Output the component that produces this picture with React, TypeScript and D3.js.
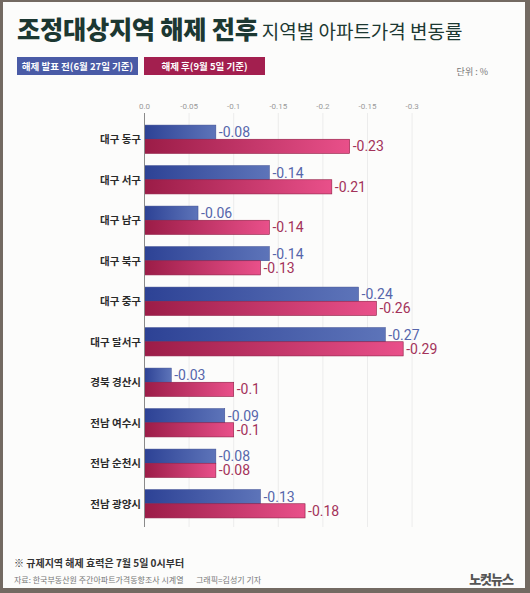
import React, { useEffect } from "react";
import * as d3 from "d3";

const categories = ["대구 동구", "대구 서구", "대구 남구", "대구 북구", "대구 중구", "대구 달서구", "경북 경산시", "전남 여수시", "전남 순천시", "전남 광양시"];
const beforeValues = [-0.08, -0.14, -0.06, -0.14, -0.24, -0.27, -0.03, -0.09, -0.08, -0.13];
const afterValues = [-0.23, -0.21, -0.14, -0.13, -0.26, -0.29, -0.1, -0.1, -0.08, -0.18];
const tickValues = [0, -0.05, -0.1, -0.15, -0.2, -0.25, -0.3];
const tickLabels = ["0.0", "-0.05", "-0.1", "-0.15", "-0.2", "-0.15", "-0.3"];
const seriesNames = ["해제 발표 전(6월 27일 기준)", "해제 후(9월 5일 기준)"];

const W = 530;
const H = 593;
const KR = "'Noto Sans CJK KR', 'Noto Sans', sans-serif";
const NUM = "Roboto, 'Liberation Sans', sans-serif";

export default function App() {
  useEffect(() => {
    document.body.style.margin = "0";
  }, []);

  const x = d3.scaleLinear().domain([0, -0.3]).range([144.5, 144.5 + 0.3 * 892]);
  const y = d3.scaleBand<string>().domain(categories).range([119, 524]).paddingInner(0.3).paddingOuter(0.15);
  const half = y.bandwidth() / 2;
  const gridTop = 113;
  const gridBottom = 527;

  return (
    <svg width={W} height={H} style={{ position: "absolute", left: 0, top: 0, display: "block" }}>
      <defs>
        <linearGradient id="gBlue" x1="0" y1="0" x2="1" y2="0">
          <stop offset="0" stopColor="#2d4295" />
          <stop offset="1" stopColor="#5d74b9" />
        </linearGradient>
        <linearGradient id="gRed" x1="0" y1="0" x2="1" y2="0">
          <stop offset="0" stopColor="#9b1c47" />
          <stop offset="1" stopColor="#e9508a" />
        </linearGradient>
      </defs>
      <rect x={0} y={0} width={W} height={H} fill="#736a62" />
      <rect x={3} y={2} width={522} height={586} fill="#fcfcfb" />

      <text x={17} y={39} fontFamily={KR} fontWeight={900} fontSize={25.3} fill="#1c3832" letterSpacing={-0.3}>
        조정대상지역 해제 전후
        <tspan dx={4} fontWeight={400} fontSize={19} letterSpacing={0}>지역별 아파트가격 변동률</tspan>
      </text>

      <rect x={17} y={57} width={121} height={18} fill="#4a5ba6" />
      <text x={77.5} y={69.5} textAnchor="middle" fontFamily={KR} fontWeight={700} fontSize={9.5} fill="#fff">{seriesNames[0]}</text>
      <rect x={144} y={57} width={121} height={18} fill="#a31f4f" />
      <text x={204.5} y={69.5} textAnchor="middle" fontFamily={KR} fontWeight={700} fontSize={9.5} fill="#fff">{seriesNames[1]}</text>

      <text x={488} y={75} textAnchor="end" fontFamily={KR} fontSize={9} fill="#777">단위 : %</text>

      {tickValues.map((t, i) => (
        <g key={i}>
          {i > 0 && <line x1={x(t)} x2={x(t)} y1={gridTop} y2={gridBottom} stroke="#ececec" strokeWidth={1} />}
          <text x={x(t)} y={109} textAnchor="middle" fontFamily={NUM} fontSize={8} fill="#9a9a9a">{tickLabels[i]}</text>
        </g>
      ))}

      {categories.map((c, i) => {
        const y0 = y(c) as number;
        const b = beforeValues[i];
        const a = afterValues[i];
        return (
          <g key={c}>
            <rect x={x(0)} y={y0} width={x(b) - x(0)} height={half} fill="url(#gBlue)" stroke="#3a4a90" strokeWidth={0.5} />
            <rect x={x(0)} y={y0 + half} width={x(a) - x(0)} height={half} fill="url(#gRed)" stroke="#8e1a42" strokeWidth={0.6} />
            <text x={x(b) + 3} y={y0 + half / 2} dy="0.36em" fontFamily={NUM} fontSize={14} fill="#5666ab">{String(b)}</text>
            <text x={x(a) + 3} y={y0 + half * 1.5} dy="0.36em" fontFamily={NUM} fontSize={14} fill="#a3325a">{String(a)}</text>
            <text x={141} y={y0 + half} dy="0.36em" textAnchor="end" fontFamily={KR} fontWeight={700} fontSize={10.5} fill="#2a2a2a">{c}</text>
          </g>
        );
      })}

      <line x1={x(0)} x2={x(0)} y1={gridTop} y2={gridBottom} stroke="#8a8a8a" strokeWidth={1} />

      <text x={14} y={567} fontFamily={KR} fontWeight={700} fontSize={10} fill="#333">※ 규제지역 해제 효력은 7월 5일 0시부터</text>
      <text x={14} y={583} fontFamily={KR} fontSize={8} fill="#777">자료: 한국부동산원 주간아파트가격동향조사 시계열</text>
      <text x={196} y={583} fontFamily={KR} fontSize={8} fill="#777">그래픽=김성기 기자</text>
      <text x={513} y={584} textAnchor="end" fontFamily={KR} fontWeight={900} fontSize={13} fill="#555" letterSpacing={-1}>노컷뉴스</text>
    </svg>
  );
}
